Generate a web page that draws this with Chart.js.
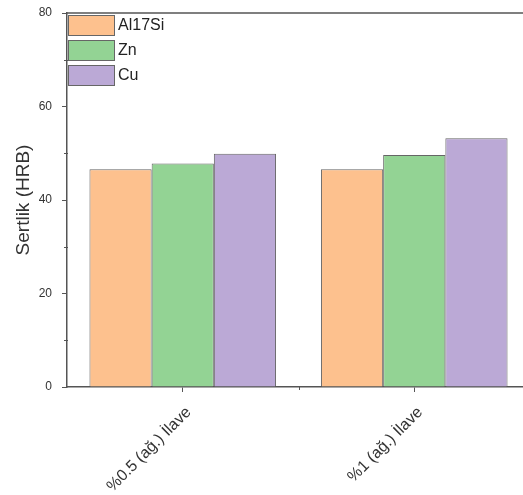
<!DOCTYPE html>
<html>
<head>
<meta charset="utf-8">
<script src="https://cdn.jsdelivr.net/npm/chart.js@4"></script>
<style>
  html, body { margin: 0; padding: 0; background: #fff; overflow: hidden; }
  #wrap { width: 560px; height: 495px; }
</style>
</head>
<body>
<div id="wrap"><canvas id="chart"></canvas></div>
<script>
// veriler
const categories = ['%0.5 (ağ.) İlave', '%1 (ağ.) İlave'];
const seriesNames = ['Al17Si', 'Zn', 'Cu'];
const al17siValues = [46.6, 46.6];
const znValues = [47.8, 49.6];
const cuValues = [49.9, 53.2];
const yTicks = [0, 20, 40, 60, 80];
const yMinorTicks = [10, 30, 50, 70];

const colors = ['#FDC18E', '#93D394', '#BBA9D6'];
const axisColor = '#555555';
const fontFamily = '"Liberation Sans", Arial, sans-serif';

// eksen ve kenar çizgileri, ara çentikler
const decorPlugin = {
    id: 'decor',
    afterDraw(chart) {
        const ctx = chart.ctx;
        const area = chart.chartArea;
        const x = chart.scales.x;
        const y = chart.scales.y;
        ctx.save();
        ctx.strokeStyle = axisColor;
        ctx.lineWidth = 1.5;
        ctx.beginPath();
        ctx.moveTo(area.left, area.top);
        ctx.lineTo(area.right, area.top);
        ctx.stroke();
        ctx.lineWidth = 1;
        ctx.beginPath();
        yMinorTicks.forEach(v => {
            const py = Math.round(y.getPixelForValue(v)) + 0.5;
            ctx.moveTo(area.left - 3, py);
            ctx.lineTo(area.left + 1, py);
        });
        for (let i = 0; i < categories.length - 1; i++) {
            const px = Math.round(x.getPixelForValue(i + 0.5)) + 0.5;
            ctx.moveTo(px, area.bottom);
            ctx.lineTo(px, area.bottom + 3);
        }
        ctx.stroke();
        ctx.restore();
    }
};

// grafik içi dikey lejant
const legendPlugin = {
    id: 'innerLegend',
    afterDraw(chart) {
        const ctx = chart.ctx;
        const area = chart.chartArea;
        ctx.save();
        ctx.font = '16px ' + fontFamily;
        ctx.textBaseline = 'middle';
        chart.data.datasets.forEach((ds, i) => {
            const top = area.top + 2 + i * 25;
            ctx.fillStyle = ds.backgroundColor;
            ctx.fillRect(area.left + 1, top, 46, 20);
            ctx.strokeStyle = '#666';
            ctx.lineWidth = 1;
            ctx.strokeRect(area.left + 1.5, top + 0.5, 46, 20);
            ctx.fillStyle = '#222';
            ctx.fillText(ds.label, area.left + 51, top + 11);
        });
        ctx.restore();
    }
};

const datasets = [al17siValues, znValues, cuValues].map((vals, i) => ({
    label: seriesNames[i],
    data: vals,
    backgroundColor: colors[i],
    borderColor: '#666666',
    borderWidth: 1,
    categoryPercentage: 0.806,
    barPercentage: 1.0
}));

new Chart(document.getElementById('chart').getContext('2d'), {
    type: 'bar',
    data: { labels: categories, datasets: datasets },
    options: {
        responsive: true,
        maintainAspectRatio: false,
        animation: false,
        layout: { padding: { top: 13, right: 30, left: 12, bottom: 0 } },
        plugins: {
            legend: { display: false },
            tooltip: { enabled: false }
        },
        scales: {
            x: {
                grid: { drawOnChartArea: false, offset: false, color: axisColor, tickLength: 5 },
                border: { color: axisColor, width: 1.5 },
                ticks: {
                    color: '#333',
                    font: { size: 16, family: fontFamily },
                    minRotation: 45,
                    maxRotation: 45,
                    padding: 11,
                    labelOffset: 6
                },
                afterFit(scale) {
                    scale.height = 108;
                    scale.paddingTop = 0;
                    scale.paddingLeft = 0;
                    scale.paddingRight = 0;
                }
            },
            y: {
                min: 0,
                max: 80,
                afterBuildTicks(scale) { scale.ticks = yTicks.map(v => ({ value: v })); },
                grid: { drawOnChartArea: false, color: axisColor, tickLength: 5 },
                border: { color: axisColor, width: 1.5 },
                ticks: {
                    color: '#333',
                    font: { size: 12, family: fontFamily },
                    padding: 10
                },
                title: {
                    display: true,
                    text: 'Sertlik (HRB)',
                    color: '#333',
                    font: { size: 19, family: fontFamily },
                    padding: { top: 0, bottom: 2 }
                },
                afterFit(scale) {
                    scale.width = 55;
                    scale.paddingTop = 0;
                    scale.paddingBottom = 0;
                }
            }
        }
    },
    plugins: [decorPlugin, legendPlugin]
});
</script>
</body>
</html>
